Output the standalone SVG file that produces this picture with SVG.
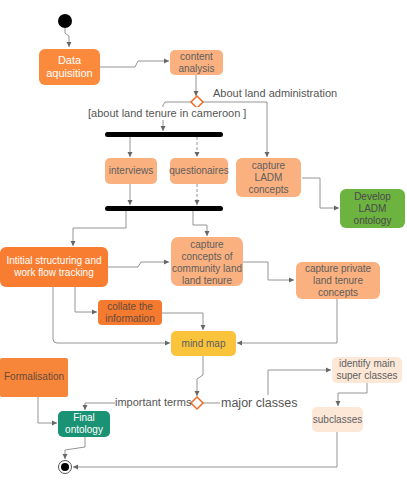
<svg xmlns="http://www.w3.org/2000/svg" width="407" height="483" viewBox="0 0 407 483">
<style>
text{font-family:"Liberation Sans",Arial,sans-serif;font-size:10px;fill:#5e5e5e;text-anchor:middle}
.w{fill:#ffffff}
.big{font-size:11px}
.c{fill:none;stroke:#949494;stroke-width:1}
.d{stroke-dasharray:3 2}
.lbl{text-anchor:start;font-size:11px;fill:#555}
.maj{font-size:12.5px}
</style>
<defs>
<marker id="a" markerWidth="6" markerHeight="6" refX="5" refY="3" orient="auto" markerUnits="userSpaceOnUse">
<path d="M0,0.5 L5,3 L0,5.5 Z" fill="#666"/>
</marker>
</defs>
<rect width="407" height="483" fill="#ffffff"/>
<g id="connectors">
<path class="c" d="M65,28 V33 L69,36 V47" marker-end="url(#a)"/>
<path class="c" d="M100,67 H135 L138,61 H169" marker-end="url(#a)"/>
<path class="c" d="M196,75 V96" marker-end="url(#a)"/>
<path class="c" d="M203,102 H267 V157" marker-end="url(#a)"/>
<path class="c" d="M191,102 H165 L163,105 V131" marker-end="url(#a)"/>
<path class="c" d="M130,137 V157" marker-end="url(#a)"/>
<path class="c d" d="M197,137 V157" marker-end="url(#a)"/>
<path class="c" d="M130,184 V205" marker-end="url(#a)"/>
<path class="c d" d="M197,184 V205" marker-end="url(#a)"/>
<path class="c" d="M302,178 H320 V208 H339" marker-end="url(#a)"/>
<path class="c" d="M126,211 V228 H73 V246" marker-end="url(#a)"/>
<path class="c" d="M193,211 V225 H207 V236" marker-end="url(#a)"/>
<path class="c" d="M108,267 H138 L141,262 H169" marker-end="url(#a)"/>
<path class="c" d="M243,262 H268 V280 H294" marker-end="url(#a)"/>
<path class="c" d="M75,287 V312 H97" marker-end="url(#a)"/>
<path class="c" d="M162,313 H203 V330" marker-end="url(#a)"/>
<path class="c" d="M53,287 V339 Q53,343 57,343 H170" marker-end="url(#a)"/>
<path class="c" d="M337,299 V343 H237" marker-end="url(#a)"/>
<path class="c" d="M203,356 V375 L197,379 V396" marker-end="url(#a)"/>
<path class="c" d="M191,403 H85 V410" marker-end="url(#a)"/>
<path class="c" d="M203,403 H268 V370 H331" marker-end="url(#a)"/>
<path class="c" d="M367,383 V393 H338 V406" marker-end="url(#a)"/>
<path class="c" d="M38,397 V423 H57" marker-end="url(#a)"/>
<path class="c" d="M85,437 V447 L65,450 V459" marker-end="url(#a)"/>
<path class="c" d="M337,432 V467 H73" marker-end="url(#a)"/>
</g>
<g id="start"><circle cx="65" cy="21" r="7" fill="#000"/></g>
<g id="data-aquisition"><rect x="39" y="49" width="61" height="36" rx="6" fill="#fb8a3c"/><text class="w big" x="69.5" y="64">Data</text><text class="w big" x="69.5" y="77">aquisition</text></g>
<g id="content-analysis"><rect x="170" y="50" width="53" height="25" rx="5" fill="#fbb07f"/><text x="196.5" y="60">content</text><text x="196.5" y="72">analysis</text></g>
<g id="decision1"><path d="M197,96 L203,102 L197,108 L191,102 Z" fill="#fff" stroke="#ee6a22" stroke-width="1.5"/></g>
<g id="label-admin"><text class="lbl" x="213" y="97">About land administration</text></g>
<g id="label-tenure"><rect x="87" y="107" width="152" height="13" fill="#fff"/><text class="lbl" x="88" y="117">[about land tenure in cameroon ]</text></g>
<g id="fork1"><rect x="105" y="132" width="118" height="5" rx="2.5" fill="#000"/></g>
<g id="interviews"><rect x="105" y="158" width="52" height="26" rx="5" fill="#fbb07f"/><text x="131" y="174">interviews</text></g>
<g id="questionaires"><rect x="170" y="158" width="58" height="26" rx="5" fill="#fbb07f"/><text x="199" y="174">questionaires</text></g>
<g id="capture-ladm"><rect x="236" y="158" width="65" height="39" rx="6" fill="#fbb07f"/><text x="268.5" y="169">capture</text><text x="268.5" y="181">LADM</text><text x="268.5" y="193">concepts</text></g>
<g id="develop-ladm"><rect x="340" y="189" width="65" height="39" rx="6" fill="#6cb33f"/><text x="372.5" y="200" style="fill:#4a4a4a">Develop</text><text x="372.5" y="212" style="fill:#4a4a4a">LADM</text><text x="372.5" y="224" style="fill:#4a4a4a">ontology</text></g>
<g id="join1"><rect x="105" y="206" width="118" height="5" rx="2.5" fill="#000"/></g>
<g id="initial-structuring"><rect x="0" y="247" width="108" height="40" rx="6" fill="#f97d30"/><text class="w" x="54" y="264">Intitial structuring and</text><text class="w" x="54" y="276">work flow tracking</text></g>
<g id="capture-community"><rect x="171" y="237" width="72" height="49" rx="7" fill="#fbb07f"/><text x="207" y="248">capture</text><text x="207" y="260">concepts of</text><text x="207" y="272">community land</text><text x="207" y="284">land tenure</text></g>
<g id="capture-private"><rect x="296" y="262" width="84" height="37" rx="6" fill="#fbb07f"/><text x="338" y="272">capture private</text><text x="338" y="284">land tenure</text><text x="338" y="296">concepts</text></g>
<g id="collate"><rect x="98" y="300" width="64" height="25" rx="4" fill="#f47a30"/><text x="130" y="310" style="fill:#6a4a3a">collate the</text><text x="130" y="322" style="fill:#6a4a3a">information</text></g>
<g id="mind-map"><rect x="171" y="331" width="65" height="25" rx="5" fill="#f9c33b"/><text x="203.5" y="347">mind map</text></g>
<g id="formalisation"><rect x="0" y="358" width="68" height="39" rx="2" fill="#f7863a"/><text x="34" y="380" style="fill:#6a4a3a">Formalisation</text></g>
<g id="decision2"><path d="M197,397 L203,403 L197,409 L191,403 Z" fill="#fff" stroke="#ee6a22" stroke-width="1.5"/></g>
<g id="label-important"><rect x="115" y="396" width="74" height="13" fill="#fff"/><text class="lbl" x="115" y="406">important terms</text></g>
<g id="label-major"><rect x="220" y="395" width="77" height="15" fill="#fff"/><text class="lbl maj" x="221" y="407">major classes</text></g>
<g id="identify-main"><rect x="332" y="357" width="70" height="26" rx="5" fill="#fde8d7"/><text x="367" y="367">identify main</text><text x="367" y="379">super classes</text></g>
<g id="subclasses"><rect x="312" y="407" width="51" height="25" rx="5" fill="#fde8d7"/><text x="337.5" y="423">subclasses</text></g>
<g id="final-ontology"><rect x="58" y="411" width="52" height="26" rx="5" fill="#1a9274"/><text class="w" x="84" y="421">Final</text><text class="w" x="84" y="433">ontology</text></g>
<g id="end"><circle cx="65" cy="467" r="6.5" fill="#fff" stroke="#555" stroke-width="1"/><circle cx="65" cy="467" r="4" fill="#000"/></g>
</svg>
